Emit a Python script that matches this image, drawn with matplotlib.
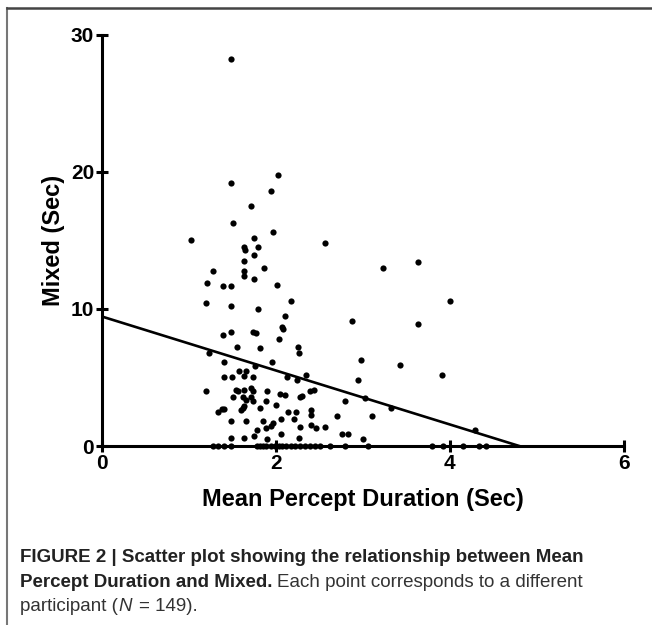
import matplotlib
matplotlib.use('Agg')
import matplotlib.pyplot as plt
from matplotlib.lines import Line2D
import numpy as np

# mean percept duration (sec) and mixed (sec), one pair per participant
duration = [
    1.49, 2.02, 1.48, 1.94, 1.72, 1.51, 1.97, 1.03, 1.75, 1.64,
    1.65, 1.79, 1.75, 1.64, 1.28, 1.87, 1.64, 1.64, 1.21, 1.75,
    1.39, 1.48, 2.01, 1.20, 1.49, 1.80, 2.17,
    3.23, 3.63, 4.00, 2.88, 3.63, 2.98, 3.43, 3.91, 2.94, 2.80,
    3.03, 3.32, 2.70, 3.10, 4.29, 2.76, 2.83, 3.00,
    2.62, 2.80, 3.06, 3.80, 3.92, 4.15, 4.34, 4.41,
    2.57, 2.44, 2.40, 2.40, 2.46, 2.56, 2.39, 2.45, 2.51,
    2.10, 2.07, 2.08, 1.39, 1.49, 1.74, 1.77, 2.04, 1.55, 1.82,
    2.25, 2.27, 1.23, 1.41, 1.96, 1.76, 1.58, 1.66, 1.63, 1.41,
    1.50, 1.74, 2.13, 2.24, 2.35, 1.20, 1.54, 1.57, 1.64, 1.72,
    1.74, 1.90, 2.05, 2.10, 1.51, 1.62, 1.71, 1.66, 1.74, 2.28,
    2.30, 2.39, 1.89, 2.00, 1.64, 1.62, 1.82, 1.38, 1.41, 1.34,
    1.60, 2.14, 2.23, 2.06, 2.21, 2.41, 1.48, 1.66, 1.85, 1.97,
    1.94, 1.89, 1.78, 2.06, 2.28, 1.75, 1.49, 1.64, 1.90, 2.27,
    1.28, 1.34, 1.41, 1.49, 1.78, 1.85, 1.89, 1.94, 1.99, 2.04,
    2.07, 2.12, 2.17, 2.22, 2.28, 2.34, 1.82,
]
mixed = [
    28.2, 19.8, 19.2, 18.6, 17.5, 16.3, 15.6, 15.0, 15.2, 14.5,
    14.3, 14.5, 13.9, 13.5, 12.8, 13.0, 12.8, 12.4, 11.9, 12.2,
    11.7, 11.7, 11.75, 10.4, 10.2, 10.0, 10.6,
    13.0, 13.45, 10.6, 9.1, 8.9, 6.3, 5.9, 5.2, 4.8, 3.3,
    3.5, 2.8, 2.2, 2.2, 1.2, 0.9, 0.9, 0.5,
    0, 0, 0, 0, 0, 0, 0, 0,
    14.8, 4.1, 2.65, 1.5, 1.3, 1.4, 0, 0, 0,
    9.5, 8.7, 8.5, 8.1, 8.3, 8.3, 8.25, 7.8, 7.2, 7.15,
    7.25, 6.8, 6.8, 6.1, 6.1, 5.8, 5.45, 5.5, 5.1, 5.0,
    5.0, 5.0, 5.0, 4.8, 5.2, 4.0, 4.1, 4.0, 4.1, 4.25,
    4.0, 4.0, 3.8, 3.75, 3.6, 3.6, 3.55, 3.35, 3.3, 3.55,
    3.65, 4.0, 3.3, 3.0, 2.9, 2.75, 2.8, 2.7, 2.7, 2.45,
    2.6, 2.45, 2.5, 2.0, 1.95, 2.25, 1.8, 1.8, 1.8, 1.7,
    1.45, 1.3, 1.2, 0.85, 1.4, 0.73, 0.55, 0.55, 0.5, 0.55,
    0, 0, 0, 0, 0, 0, 0, 0, 0, 0,
    0, 0, 0, 0, 0, 0, 0,
]

# fitted line as drawn in the figure
fit_intercept = 9.45
fit_slope = -1.97

x_ticks = [0, 2, 4, 6]
y_ticks = [0, 10, 20, 30]

plt.rcParams['font.family'] = ['Liberation Sans', 'DejaVu Sans']

fig = plt.figure(figsize=(6.52, 6.25), dpi=100)
ax = fig.add_axes([0.156, 0.2864, 0.801, 0.658])

ax.scatter(duration, mixed, s=20, color='black', zorder=3, clip_on=False, linewidths=0)

x_end = -fit_intercept / fit_slope
xs = np.array([0, x_end])
ax.plot(xs, fit_intercept + fit_slope * xs, color='black', lw=1.9, zorder=2)

ax.set_xlim(0, 6)
ax.set_ylim(0, 30)
ax.set_xticks(x_ticks)
ax.set_yticks(y_ticks)
ax.spines['top'].set_visible(False)
ax.spines['right'].set_visible(False)
ax.spines['left'].set_linewidth(2.2)
ax.spines['bottom'].set_linewidth(2.2)
ax.tick_params(direction='inout', length=9, width=2.2, labelsize=15, pad=1)
for lab in ax.get_xticklabels() + ax.get_yticklabels():
    lab.set_fontweight('bold')

ax.set_xlabel('Mean Percept Duration (Sec)', fontsize=17, fontweight='bold', labelpad=11)
ax.set_ylabel('Mixed (Sec)', fontsize=17, fontweight='bold', labelpad=4)

# frame around the figure panel (left and top edges)
fig.add_artist(Line2D([0.011, 0.011], [0, 0.987], transform=fig.transFigure, color='#777777', lw=1.5))
fig.add_artist(Line2D([0.011, 1.0], [0.987, 0.987], transform=fig.transFigure, color='#444444', lw=1.8))

# caption
fs = 13.5
cx = 0.031
fig.text(cx, 0.101, 'FIGURE 2 | Scatter plot showing the relationship between Mean',
         fontsize=fs, fontweight='bold', color='#222222')
t1 = fig.text(cx, 0.061, 'Percept Duration and Mixed.', fontsize=fs, fontweight='bold',
              color='#222222')
fig.canvas.draw()
r = fig.canvas.get_renderer()
bb = t1.get_window_extent(r).transformed(fig.transFigure.inverted())
fig.text(bb.x1 + 0.006, 0.061, 'Each point corresponds to a different', fontsize=fs,
         color='#333333')
t3 = fig.text(cx, 0.022, 'participant (', fontsize=fs, color='#333333')
bb = t3.get_window_extent(r).transformed(fig.transFigure.inverted())
t4 = fig.text(bb.x1, 0.022, 'N', fontsize=fs, style='italic', color='#333333')
bb = t4.get_window_extent(r).transformed(fig.transFigure.inverted())
fig.text(bb.x1 + 0.011, 0.022, '= 149).', fontsize=fs, color='#333333')

plt.savefig('out.png', dpi=100)
